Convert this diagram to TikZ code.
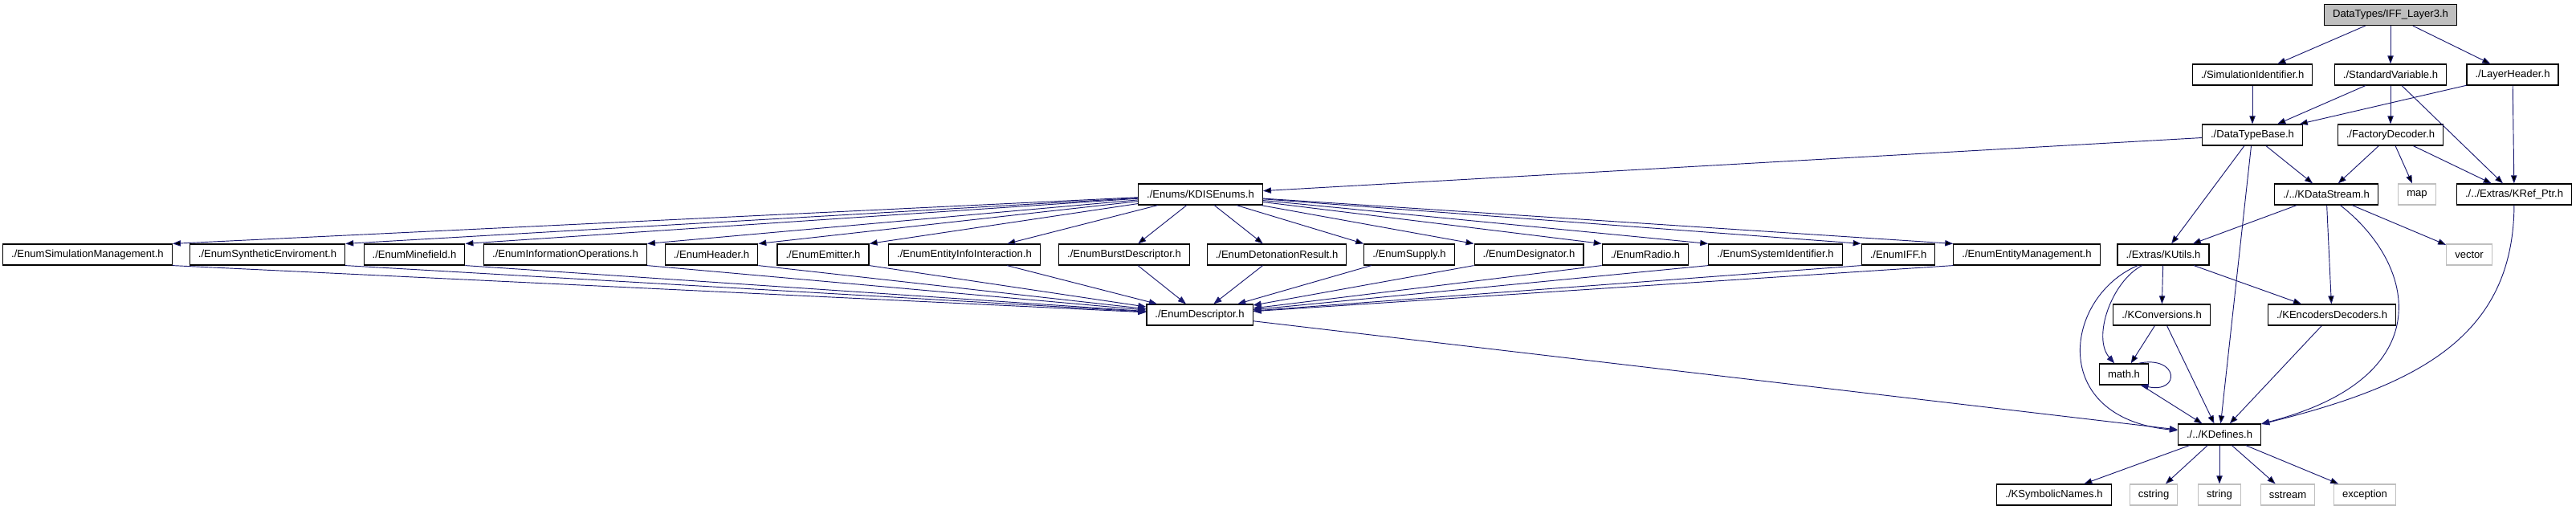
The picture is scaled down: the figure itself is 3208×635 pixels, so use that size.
\documentclass[tikz,border=0pt]{standalone}
\usepackage{fontspec}
\setmainfont{Liberation Sans}
\usetikzlibrary{arrows.meta}
\definecolor{edgeblue}{RGB}{25, 25, 112}
\definecolor{rootgray}{RGB}{191, 191, 191}
\definecolor{sysgray}{RGB}{191, 191, 191}

\begin{document}
\begin{tikzpicture}[x=0.75pt, y=0.75pt,
  file/.style={draw=black, fill=white, line width=0.9pt, font=\fontsize{9.8}{12}\selectfont, inner xsep=7.9pt, inner ysep=0pt, minimum height=19.5pt},
  rootfile/.style={file, fill=rootgray},
  sysfile/.style={file, draw=sysgray},
  dep/.style={draw=edgeblue, line width=0.7pt, -{Triangle[length=7.5pt, width=5.5pt]}}]
  \path[use as bounding box, fill=white] (0, 0) rectangle (3208, -635);

  % Top file
  \node[rootfile] (root) at (2977, -18.5) {DataTypes/IFF\_Layer3.h};

  % Data type headers
  \node[file] (simid) at (2805, -93) {./SimulationIdentifier.h};
  \node[file] (stdvar) at (2977, -93) {./StandardVariable.h};
  \node[file] (layerhdr) at (3129, -93) {./LayerHeader.h};
  \node[file] (dtbase) at (2805, -168) {./DataTypeBase.h};
  \node[file] (factdec) at (2977, -168) {./FactoryDecoder.h};
  \node[file] (kdisenums) at (1495, -242) {./Enums/KDISEnums.h};
  \node[file] (kdatastream) at (2897, -242) {./../KDataStream.h};
  \node[sysfile] (map) at (3010, -242) {map};
  \node[file] (krefptr) at (3131, -242) {./../Extras/KRef\_Ptr.h};

  % Enumeration headers
  \node[file] (simmgmt) at (109, -317) {./EnumSimulationManagement.h};
  \node[file] (synenv) at (333, -317) {./EnumSyntheticEnviroment.h};
  \node[file] (minefield) at (516, -317) {./EnumMinefield.h};
  \node[file] (infoops) at (704, -317) {./EnumInformationOperations.h};
  \node[file] (header) at (886, -317) {./EnumHeader.h};
  \node[file] (emitter) at (1025, -317) {./EnumEmitter.h};
  \node[file] (entinfo) at (1201, -317) {./EnumEntityInfoInteraction.h};
  \node[file] (burst) at (1400, -317) {./EnumBurstDescriptor.h};
  \node[file] (deton) at (1590, -317) {./EnumDetonationResult.h};
  \node[file] (supply) at (1755, -317) {./EnumSupply.h};
  \node[file] (designator) at (1904, -317) {./EnumDesignator.h};
  \node[file] (radio) at (2049, -317) {./EnumRadio.h};
  \node[file] (sysid) at (2211, -317) {./EnumSystemIdentifier.h};
  \node[file] (iff) at (2364, -317) {./EnumIFF.h};
  \node[file] (entmgmt) at (2524, -317) {./EnumEntityManagement.h};
  \node[file] (kutils) at (2694, -317) {./Extras/KUtils.h};
  \node[sysfile] (vector) at (3075, -317) {vector};

  % Lower headers
  \node[file] (enumdesc) at (1494, -392) {./EnumDescriptor.h};
  \node[file] (kconv) at (2692, -392) {./KConversions.h};
  \node[file] (kencdec) at (2904, -392) {./KEncodersDecoders.h};
  \node[file] (math) at (2645, -466) {math.h};
  \node[file] (kdefines) at (2764, -541) {./../KDefines.h};

  % Bottom row
  \node[file] (ksymb) at (2558, -616) {./KSymbolicNames.h};
  \node[sysfile] (cstring) at (2682, -616) {cstring};
  \node[sysfile] (string) at (2764, -616) {string};
  \node[sysfile] (sstream) at (2849, -616) {sstream};
  \node[sysfile] (exception) at (2945, -616) {exception};

  % Includes of the upper part
  \path[dep] (root) edge (simid) edge (stdvar) edge (layerhdr);
  \path[dep] (simid) edge (dtbase);
  \path[dep] (stdvar) edge (dtbase) edge (factdec) edge (krefptr);
  \path[dep] (layerhdr) edge (dtbase) edge (krefptr);
  \path[dep] (dtbase) edge (kdisenums) edge (kdatastream) edge (kutils) edge (kdefines);
  \path[dep] (factdec) edge (kdatastream) edge (map) edge (krefptr);
  \path[dep] (kdatastream) edge (kutils) edge (kencdec) edge (vector);
  \draw[dep] (kdatastream) .. controls (3010, -330) and (3040, -470) .. (kdefines);
  \draw[dep] (krefptr) .. controls (3130, -420) and (3010, -480) .. (kdefines);

  % Utilities
  \path[dep] (kutils) edge (kconv) edge (kencdec);
  \draw[dep] (kutils) .. controls (2630, -350) and (2605, -420) .. (math);
  \draw[dep] (kutils) .. controls (2570, -370) and (2550, -520) .. (kdefines);
  \path[dep] (kconv) edge (math) edge (kdefines);
  \draw[dep] ([xshift=-10pt]math.north east) .. controls +(38pt, 8pt) and +(38pt, -8pt) .. ([xshift=-8pt]math.south east);
  \path[dep] (math) edge (kdefines);
  \path[dep] (kencdec) edge (kdefines);
  \path[dep] (kdefines) edge (ksymb) edge (cstring) edge (string) edge (sstream) edge (exception);

  % Enumerations
  \path[dep] (kdisenums) edge (simmgmt.north east) edge (synenv.north east) edge (minefield.north east)
    edge (infoops.north east) edge (header.north east) edge (emitter.north east) edge (entinfo)
    edge (burst) edge (deton) edge (supply.north west) edge (designator.north west)
    edge (radio.north west) edge (sysid.north west) edge (iff.north west) edge (entmgmt.north west);
  \draw[dep] (simmgmt.south east) -- (enumdesc);
  \draw[dep] (synenv.south east) -- (enumdesc);
  \draw[dep] (minefield.south east) -- (enumdesc);
  \draw[dep] (infoops.south east) -- (enumdesc);
  \draw[dep] (header.south east) -- (enumdesc);
  \draw[dep] (emitter.south east) -- (enumdesc);
  \draw[dep] (entinfo) -- (enumdesc);
  \draw[dep] (burst) -- (enumdesc);
  \draw[dep] (deton) -- (enumdesc);
  \draw[dep] (supply) -- (enumdesc);
  \draw[dep] (designator.south west) -- (enumdesc);
  \draw[dep] (radio.south west) -- (enumdesc);
  \draw[dep] (sysid.south west) -- (enumdesc);
  \draw[dep] (iff.south west) -- (enumdesc);
  \draw[dep] (entmgmt.south west) -- (enumdesc);
  \draw[dep] (enumdesc) -- (kdefines);
\end{tikzpicture}
\end{document}
